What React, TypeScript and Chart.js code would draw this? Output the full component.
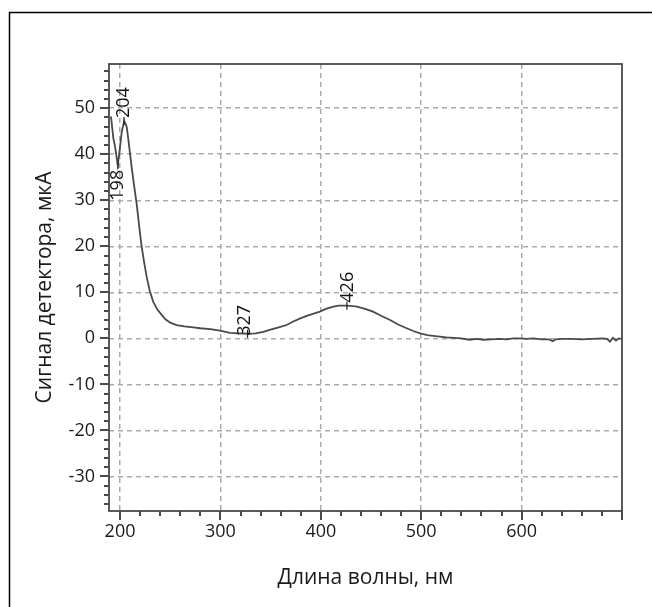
import { useEffect, useRef } from "react";
import { Chart, registerables } from "chart.js";

Chart.register(...registerables);

const wavelengths = [
  191, 193.3, 195, 197.7, 199.3, 201.7, 204.2, 206.6, 208.5, 211.5, 214, 216.5, 220, 221.5, 224,
  226.5, 229.5, 233, 237, 241.5, 245.5, 250, 256.4, 264, 273, 280, 290, 299.6, 309.5, 318,
  327.7, 335, 342.6, 350, 358, 366, 372, 379, 386, 392, 399, 405, 412.5, 418, 425.7, 432,
  436, 444, 452, 460, 469, 477, 485.5, 492, 499, 506, 514, 525, 533, 540, 548, 555, 562,
  570, 578, 585, 592, 598, 605, 612, 620, 627, 631, 634, 640, 650, 660, 670, 681, 685, 688,
  691, 694, 697, 700,
];

const signal = [
  48.2, 43.5, 41.7, 37.7, 40.2, 44.9, 47.2, 46.0, 42.8, 37.3, 33.2, 29.3, 22.6, 20.0, 16.5,
  13.4, 10.4, 8.0, 6.3, 5.1, 4.1, 3.4, 2.9, 2.6, 2.4, 2.2, 2.0, 1.7, 1.2, 1.1,
  1.0, 1.1, 1.4, 1.9, 2.4, 2.9, 3.6, 4.3, 4.9, 5.3, 5.8, 6.4, 6.9, 7.1, 7.1, 7.0,
  6.9, 6.4, 5.8, 4.9, 4.0, 3.0, 2.2, 1.6, 1.1, 0.7, 0.5, 0.2, 0.1, 0.0, -0.3, -0.1, -0.3,
  -0.2, -0.1, -0.2, 0.0, 0.0, -0.1, 0.0, -0.2, -0.2, -0.6, -0.2, -0.1, -0.1, -0.2, -0.1, 0.0, -0.1, -0.7,
  0.1, -0.5, 0.0, -0.1,
];

const xTickValues = [200, 300, 400, 500, 600];
const yTickValues = [-30, -20, -10, 0, 10, 20, 30, 40, 50];

const peakWavelengths = [198, 204, 327, 426];
const peakSignals = [37.7, 47.2, 1.0, 7.1];
const peakLabels = ["198", "204", "327", "426"];

const xTitle = "Длина волны, нм";
const yTitle = "Сигнал детектора, мкА";

const FONT = "'Open Sans', sans-serif";

export default function App() {
  const ref = useRef<HTMLCanvasElement>(null);

  useEffect(() => {
    const canvas = ref.current;
    if (!canvas) return;

    const decor = {
      id: "decor",
      beforeDraw(chart: any) {
        const ctx = chart.ctx;
        ctx.save();
        ctx.fillStyle = "#ffffff";
        ctx.fillRect(0, 0, chart.width, chart.height);
        ctx.strokeStyle = "#000000";
        ctx.lineWidth = 1.5;
        ctx.strokeRect(9.5, 12.5, 800, 800);
        ctx.restore();
      },
      afterDraw(chart: any) {
        const ctx = chart.ctx;
        const a = chart.chartArea;
        const x = chart.scales.x;
        const y = chart.scales.y;
        ctx.save();
        // frame
        ctx.strokeStyle = "#4a4a4a";
        ctx.lineWidth = 1.8;
        ctx.strokeRect(a.left, a.top, a.right - a.left, a.bottom - a.top);
        // ticks
        ctx.lineWidth = 2;
        ctx.strokeStyle = "#4a4a4a";
        ctx.beginPath();
        for (let v = 200; v <= 700; v += 20) {
          const px = Math.round(x.getPixelForValue(v));
          const len = v % 100 === 0 ? 9 : 5;
          ctx.moveTo(px, a.bottom);
          ctx.lineTo(px, a.bottom + len);
        }
        for (let v = -36; v <= 58; v += 2) {
          const py = Math.round(y.getPixelForValue(v));
          const len = v % 10 === 0 ? 9 : 5;
          ctx.moveTo(a.left, py);
          ctx.lineTo(a.left - len, py);
        }
        ctx.stroke();
        // peak labels
        const offsets = [
          { dx: 0, dy: 5, align: "right" },
          { dx: 0, dy: -3, align: "left" },
          { dx: -3, dy: 2, align: "left" },
          { dx: 1, dy: -3, align: "left" },
        ];
        ctx.font = `18px ${FONT}`;
        ctx.fillStyle = "#111111";
        ctx.strokeStyle = "#222222";
        ctx.lineWidth = 1.2;
        peakWavelengths.forEach((w, i) => {
          const px = x.getPixelForValue(w);
          const py = y.getPixelForValue(peakSignals[i]);
          const o = offsets[i];
          ctx.beginPath();
          ctx.moveTo(px, py - 4);
          ctx.lineTo(px, py + 4);
          ctx.stroke();
          ctx.save();
          ctx.translate(px + o.dx, py + o.dy);
          ctx.rotate(-Math.PI / 2);
          ctx.textAlign = o.align;
          ctx.textBaseline = "middle";
          ctx.fillText(peakLabels[i], 0, 0);
          ctx.restore();
        });
        ctx.restore();
      },
    };

    const chart = new Chart(canvas, {
      type: "line",
      data: {
        datasets: [
          {
            data: wavelengths.map((w, i) => ({ x: w, y: signal[i] })),
            borderColor: "#4a4a4a",
            borderWidth: 1.8,
            pointRadius: 0,
            tension: 0,
            fill: false,
          },
        ],
      },
      options: {
        animation: false,
        responsive: false,
        events: [],
        layout: { padding: { left: 0, top: 64, right: 30, bottom: 0 } },
        plugins: { legend: { display: false }, tooltip: { enabled: false } },
        scales: {
          x: {
            type: "linear",
            min: 189,
            max: 700,
            afterBuildTicks: (ax: any) => {
              ax.ticks = xTickValues.map((v) => ({ value: v }));
            },
            afterFit: (ax: any) => {
              ax.height = 96;
            },
            grid: { color: "#ababab", lineWidth: 1.5, drawTicks: false },
            border: { display: false, dash: [5, 4] },
            ticks: {
              padding: 10,
              color: "#1a1a1a",
              autoSkip: false,
              maxRotation: 0,
              font: { family: FONT, size: 18 },
            },
            title: {
              display: true,
              text: xTitle,
              color: "#1a1a1a",
              font: { family: FONT, size: 21 },
              padding: { top: 0, bottom: 16 },
            },
          },
          y: {
            type: "linear",
            min: -37.5,
            max: 59.6,
            afterBuildTicks: (ax: any) => {
              ax.ticks = yTickValues.map((v) => ({ value: v }));
            },
            afterFit: (ax: any) => {
              ax.width = 109;
            },
            grid: { color: "#ababab", lineWidth: 1.5, drawTicks: false },
            border: { display: false, dash: [5, 4] },
            ticks: {
              padding: 14,
              color: "#1a1a1a",
              autoSkip: false,
              font: { family: FONT, size: 18 },
            },
            title: {
              display: true,
              text: yTitle,
              color: "#1a1a1a",
              font: { family: FONT, size: 21 },
              padding: { top: 32, bottom: 0 },
            },
          },
        },
      },
      plugins: [decor],
    } as any);

    return () => chart.destroy();
  }, []);

  return (
    <div
      style={{
        position: "fixed",
        left: 0,
        top: 0,
        width: 652,
        height: 607,
        background: "#fff",
      }}
    >
      <canvas
        ref={ref}
        width={652}
        height={607}
        style={{ display: "block", width: 652, height: 607 }}
      />
    </div>
  );
}
